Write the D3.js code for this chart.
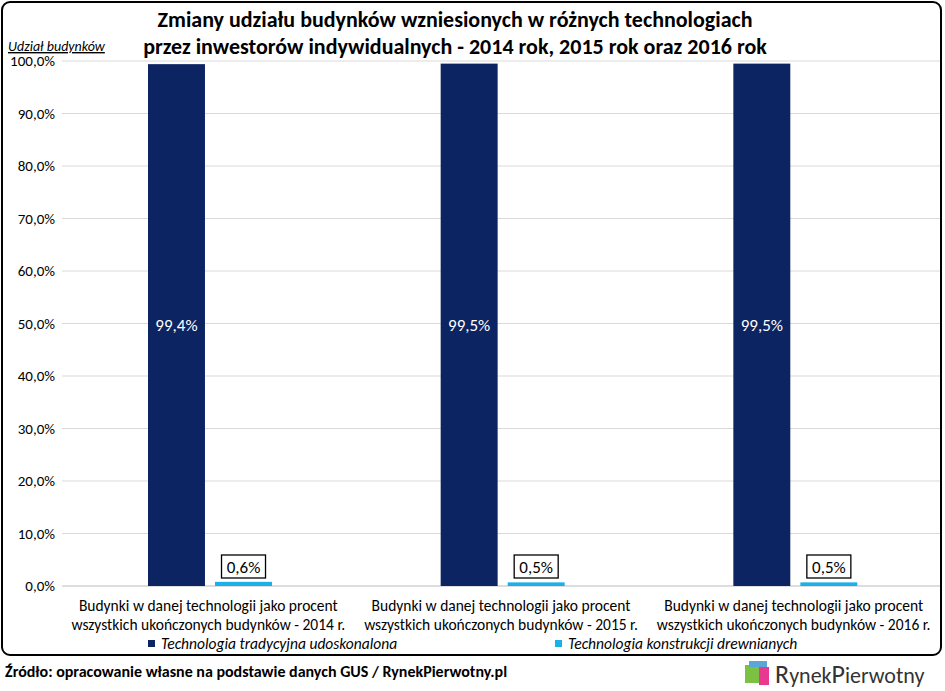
<!DOCTYPE html>
<html><head><meta charset="utf-8">
<script src="https://cdn.jsdelivr.net/npm/d3@7"></script>
<style>body{margin:0;background:#fff}svg{font-family:Calibri,Carlito,Lato,sans-serif}</style>
</head><body><svg id="chart" width="945" height="691"></svg>
<script>
const categories = [
  ["Budynki w danej technologii jako procent", "wszystkich ukończonych budynków - 2014 r."],
  ["Budynki w danej technologii jako procent", "wszystkich ukończonych budynków - 2015 r."],
  ["Budynki w danej technologii jako procent", "wszystkich ukończonych budynków - 2016 r."]
]
const seriesNames = ["Technologia tradycyjna udoskonalona", "Technologia konstrukcji drewnianych"]
const traditional = [99.4, 99.5, 99.5]
const wooden = [0.6, 0.5, 0.5]
const yTicks = [0, 10, 20, 30, 40, 50, 60, 70, 80, 90, 100]
const colors = ["#0c2461", "#1ab0e8"]

const fmt = v => d3.format(".1f")(v).replace(".", ",")
const svg = d3.select("#chart")
const m = { left: 62, right: 940, top: 61, bottom: 586 }

svg.append("rect").attr("x", 2).attr("y", 2).attr("width", 939).attr("height", 653)
  .attr("rx", 8).attr("fill", "#fff").attr("stroke", "#000").attr("stroke-width", 2)

svg.append("text").attr("x", 455).attr("y", 27).attr("text-anchor", "middle")
  .attr("font-weight", "bold").attr("font-size", 22).text("Zmiany udziału budynków wzniesionych w różnych technologiach")
svg.append("text").attr("x", 455).attr("y", 54).attr("text-anchor", "middle")
  .attr("font-weight", "bold").attr("font-size", 22).text("przez inwestorów indywidualnych - 2014 rok, 2015 rok oraz 2016 rok")
svg.append("text").attr("x", 8).attr("y", 51).attr("font-style", "italic").attr("font-size", 14)
  .attr("text-decoration", "underline").text("Udział budynków")

const y = d3.scaleLinear().domain([0, 100]).range([m.bottom, m.top])
const x0 = d3.scaleBand().domain(d3.range(3)).range([m.left, m.right])
const x1 = d3.scaleBand().domain([0, 1]).range([86, 210]).paddingInner(0.15).paddingOuter(0)

svg.append("g").selectAll("line").data(yTicks).join("line")
  .attr("x1", m.left).attr("x2", m.right).attr("y1", d => y(d)).attr("y2", d => y(d))
  .attr("stroke", d => d === 0 ? "#bbb" : "#d9d9d9").attr("stroke-width", 1.2)
svg.append("g").selectAll("text").data(yTicks).join("text")
  .attr("x", 55).attr("y", d => y(d) + 5).attr("text-anchor", "end").attr("font-size", 15)
  .text(d => fmt(d) + "%")

const g = svg.append("g").selectAll("g").data(d3.range(3)).join("g")
  .attr("transform", i => `translate(${x0(i)},0)`)
g.append("rect").attr("x", x1(0)).attr("width", x1.bandwidth())
  .attr("y", i => y(traditional[i])).attr("height", i => y(0) - y(traditional[i])).attr("fill", colors[0])
g.append("rect").attr("x", x1(1)).attr("width", x1.bandwidth())
  .attr("y", i => y(wooden[i]) - 1).attr("height", i => y(0) - y(wooden[i]) + 1).attr("fill", colors[1])
g.append("text").attr("x", x1(0) + x1.bandwidth() / 2).attr("y", y(50) + 7)
  .attr("text-anchor", "middle").attr("fill", "#fff").attr("font-size", 17).text(i => fmt(traditional[i]) + "%")
g.append("rect").attr("x", x1(1) + x1.bandwidth() / 2 - 22).attr("y", y(0) - 31).attr("width", 44).attr("height", 23)
  .attr("fill", "#fff").attr("stroke", "#000").attr("stroke-width", 1.3)
g.append("text").attr("x", x1(1) + x1.bandwidth() / 2).attr("y", y(0) - 13)
  .attr("text-anchor", "middle").attr("font-size", 17).text(i => fmt(wooden[i]) + "%")
categories.forEach((c, i) => {
  c.forEach((line, j) => svg.append("text").attr("x", x0(i) + x0.bandwidth() / 2).attr("y", 611 + j * 19)
    .attr("text-anchor", "middle").attr("font-size", 15.5).text(line))
})

const legX = [148, 555]
seriesNames.forEach((s, i) => {
  svg.append("rect").attr("x", legX[i]).attr("y", 640).attr("width", 7).attr("height", 7).attr("fill", colors[i])
  svg.append("text").attr("x", legX[i] + 13).attr("y", 649).attr("font-style", "italic").attr("font-size", 15.5).text(s)
})

svg.append("text").attr("x", 5).attr("y", 677).attr("font-weight", "bold").attr("font-size", 16)
  .text("Źródło: opracowanie własne na podstawie danych GUS / RynekPierwotny.pl")

const logo = svg.append("g").attr("transform", "translate(745,663)")
logo.append("rect").attr("x", 0).attr("y", 2).attr("width", 14).attr("height", 18).attr("fill", "#7cc242")
logo.append("rect").attr("x", 14).attr("y", 4).attr("width", 10).attr("height", 18).attr("fill", "#e8388f")
logo.append("rect").attr("x", 4).attr("y", -2).attr("width", 18).attr("height", 6).attr("fill", "#5aa6d8")
const lt = logo.append("text").attr("x", 30).attr("y", 20).attr("font-size", 22).attr("fill", "#333")
lt.append("tspan").attr("font-size", 26).text("R")
lt.append("tspan").text("ynek")
lt.append("tspan").attr("font-size", 26).text("P")
lt.append("tspan").text("ierwotny")
</script></body></html>
